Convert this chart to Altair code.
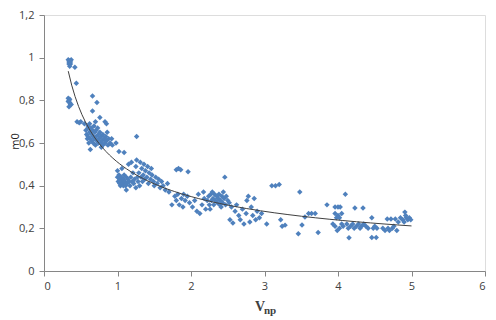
import altair as alt
import pandas as pd

# --- data ---
vnp = [
    # top cluster near 1.0
    0.33, 0.34, 0.35, 0.36, 0.34, 0.37, 0.35, 0.36, 0.42, 0.44,
    # cluster near 0.8
    0.33, 0.34, 0.35, 0.36, 0.34, 0.35, 0.37, 0.33,
    # scattered
    0.45, 0.48, 0.50, 0.66, 0.72, 0.66, 0.76, 0.83, 0.85, 0.60, 0.55,
    # dense cluster 0.57-0.94
    0.57, 0.58, 0.59, 0.60, 0.60, 0.61, 0.62, 0.62, 0.63, 0.63,
    0.64, 0.65, 0.65, 0.66, 0.67, 0.67, 0.68, 0.69, 0.69, 0.70,
    0.71, 0.71, 0.72, 0.73, 0.74, 0.74, 0.75, 0.76, 0.77, 0.78,
    0.79, 0.80, 0.80, 0.82, 0.83, 0.84, 0.85, 0.87, 0.88, 0.90,
    0.92, 0.93, 0.86, 0.78, 0.70,
    # isolated
    1.09, 1.26, 0.98, 1.02,
    # cluster 1.0-1.7
    1.00, 1.00, 1.01, 1.02, 1.03, 1.03, 1.04, 1.05, 1.05, 1.06,
    1.07, 1.08, 1.08, 1.09, 1.10, 1.11, 1.12, 1.13, 1.14, 1.15,
    1.16, 1.17, 1.18, 1.19, 1.20, 1.21, 1.22, 1.23, 1.25, 1.26,
    1.27, 1.28, 1.29, 1.30, 1.31, 1.32, 1.33, 1.34, 1.35, 1.36,
    1.37, 1.38, 1.40, 1.41, 1.42, 1.43, 1.45, 1.46, 1.47, 1.49,
    1.50, 1.52, 1.54, 1.56, 1.58, 1.60, 1.62, 1.65, 1.68, 1.70,
    1.12, 1.25,
    # 1.8-1.96 high
    1.80, 1.83, 1.86, 1.96,
    # 1.74-1.98
    1.74, 1.78, 1.80, 1.82, 1.84, 1.87, 1.89, 1.92, 1.95, 1.90, 1.98,
    # 2.0-2.2
    2.02, 2.05, 2.08, 2.10, 2.12, 2.15, 2.18, 2.20, 2.17,
    # dense 2.2-2.5
    2.22, 2.24, 2.25, 2.27, 2.28, 2.30, 2.31, 2.32, 2.33, 2.35,
    2.36, 2.37, 2.38, 2.39, 2.40, 2.42, 2.43, 2.44, 2.45, 2.47,
    2.48, 2.50, 2.29, 2.41, 2.26, 2.46,
    # 2.5-3.0
    2.52, 2.53, 2.55, 2.57, 2.60, 2.62, 2.65, 2.67, 2.70, 2.72,
    2.75, 2.76, 2.78, 2.80, 2.82, 2.84, 2.86, 2.88, 2.90, 2.93,
    2.96, 3.03,
    # 3.x
    3.10, 3.15, 3.20, 3.22, 3.24, 3.28, 3.46, 3.48, 3.51, 3.55,
    3.60, 3.64, 3.69, 3.73, 3.85, 3.96, 4.00, 4.03,
    # 4.x
    3.96, 3.98, 4.00, 4.02, 4.05, 3.93, 3.96, 3.99, 4.02, 4.05,
    4.07, 4.10, 4.12, 4.14, 4.15, 4.17, 4.20, 4.22, 4.23, 4.25,
    4.28, 4.30, 4.32, 4.34, 4.35, 4.38, 4.41, 4.46, 4.48, 4.50,
    4.46, 4.52, 4.53,
    # 4.6-5.0
    4.61, 4.64, 4.67, 4.68, 4.70, 4.72, 4.74, 4.76, 4.78, 4.80,
    4.82, 4.85, 4.88, 4.90, 4.91, 4.93, 4.95, 4.97, 4.99, 4.92,
]

m0 = [
    0.99, 0.98, 0.985, 0.97, 0.97, 0.99, 0.96, 0.98, 0.955, 0.88,
    0.81, 0.80, 0.79, 0.78, 0.77, 0.805, 0.78, 0.795,
    0.70, 0.695, 0.70, 0.82, 0.79, 0.75, 0.72, 0.70, 0.69, 0.68, 0.69,
    0.66, 0.64, 0.62, 0.67, 0.63, 0.60, 0.65, 0.69, 0.62, 0.57,
    0.67, 0.64, 0.61, 0.66, 0.63, 0.60, 0.68, 0.65, 0.62, 0.59,
    0.66, 0.63, 0.61, 0.67, 0.64, 0.60, 0.62, 0.65, 0.60, 0.63,
    0.61, 0.64, 0.59, 0.62, 0.60, 0.63, 0.61, 0.59, 0.62, 0.60,
    0.62, 0.59, 0.65, 0.58, 0.70,
    0.556, 0.63, 0.60, 0.56,
    0.47, 0.44, 0.42, 0.45, 0.41, 0.43, 0.40, 0.44, 0.42, 0.48,
    0.41, 0.43, 0.40, 0.45, 0.42, 0.40, 0.44, 0.41, 0.43, 0.50,
    0.42, 0.40, 0.44, 0.51, 0.42, 0.46, 0.41, 0.43, 0.49, 0.52,
    0.44, 0.42, 0.46, 0.40, 0.51, 0.44, 0.48, 0.42, 0.45, 0.50,
    0.43, 0.47, 0.44, 0.49, 0.41, 0.46, 0.43, 0.48, 0.45, 0.42,
    0.40, 0.44, 0.41, 0.43, 0.39, 0.42, 0.40, 0.38, 0.41, 0.37,
    0.38, 0.39,
    0.475, 0.48, 0.475, 0.465,
    0.31, 0.35, 0.33, 0.36, 0.31, 0.34, 0.30, 0.33, 0.35, 0.36, 0.32,
    0.30, 0.33, 0.28, 0.36, 0.27, 0.31, 0.34, 0.29, 0.37,
    0.33, 0.35, 0.31, 0.36, 0.33, 0.34, 0.31, 0.36, 0.33, 0.35,
    0.32, 0.34, 0.36, 0.31, 0.33, 0.35, 0.32, 0.37, 0.34, 0.31,
    0.35, 0.33, 0.37, 0.30, 0.29, 0.44,
    0.32, 0.24, 0.30, 0.225, 0.28, 0.31, 0.26, 0.24, 0.29, 0.22,
    0.27, 0.33, 0.35, 0.23, 0.30, 0.26, 0.34, 0.24, 0.28, 0.25,
    0.27, 0.22,
    0.40, 0.40, 0.405, 0.24, 0.21, 0.215, 0.175, 0.37, 0.216, 0.253,
    0.27, 0.27, 0.27, 0.18, 0.31, 0.30, 0.30, 0.30,
    0.27, 0.25, 0.26, 0.25, 0.27, 0.22, 0.21, 0.19, 0.20, 0.22,
    0.21, 0.36, 0.22, 0.20, 0.156, 0.21, 0.22, 0.20, 0.295, 0.21,
    0.22, 0.20, 0.21, 0.295, 0.22, 0.21, 0.20, 0.25, 0.20, 0.21,
    0.157, 0.157, 0.20,
    0.20, 0.19, 0.244, 0.20, 0.19, 0.244, 0.20, 0.21, 0.244, 0.19,
    0.23, 0.25, 0.24, 0.23, 0.276, 0.25, 0.24, 0.25, 0.24, 0.26,
]

x_ticks = [0, 1, 2, 3, 4, 5, 6]
y_ticks = [0, 0.2, 0.4, 0.6, 0.8, 1.0, 1.2]

df = pd.DataFrame({"vnp": vnp, "m0": m0})

axis_common = dict(
    domainColor="#868686",
    tickColor="#868686",
    tickSize=5,
    labelColor="#404040",
    labelFont="Open Sans",
    labelFontSize=11,
    grid=False,
)

x_enc = alt.X(
    "vnp:Q",
    scale=alt.Scale(domain=[0, 6], nice=False),
    axis=alt.Axis(values=x_ticks, format="d", title=None, labelPadding=4, **axis_common),
)
y_enc = alt.Y(
    "m0:Q",
    scale=alt.Scale(domain=[0, 1.2], nice=False),
    axis=alt.Axis(
        values=y_ticks,
        title="m0",
        titleFont="Open Sans",
        titleFontSize=11,
        titleFontWeight="normal",
        titleColor="#202020",
        titleAngle=270,
        titleAlign="center",
        titleBaseline="middle",
        titleLimit=200,
        titleX=-29,
        titleY=126,
        labelPadding=5,
        labelExpr="replace(format(datum.value, '.1~f'), '.', ',')",
        **axis_common,
    ),
)

points = alt.Chart(df).mark_point(
    shape="diamond", filled=True, size=30, opacity=1, color="#4F81BD"
).encode(x=x_enc, y=y_enc)

trend = (
    alt.Chart(df)
    .transform_regression("vnp", "m0", method="pow", extent=[0.33, 5.0])
    .mark_line(color="#404040", strokeWidth=1)
    .encode(x="vnp:Q", y="m0:Q")
)

title_v = alt.Chart(pd.DataFrame({"t": ["V"]})).mark_text(
    font="Liberation Serif", fontSize=14, fontWeight="bold", align="left",
    baseline="alphabetic", color="#404040"
).encode(text="t:N", x=alt.value(211), y=alt.value(296))

title_np = alt.Chart(pd.DataFrame({"t": ["np"]})).mark_text(
    font="Liberation Serif", fontSize=11, fontWeight="bold", align="left",
    baseline="alphabetic", color="#404040"
).encode(text="t:N", x=alt.value(220), y=alt.value(299))

chart = (
    alt.layer(points, trend, title_v, title_np)
    .properties(
        width=441,
        height=256,
        autosize=alt.AutoSizeParams(type="none"),
        padding={"left": 36, "top": 7, "right": 3, "bottom": 50},
    )
    .configure_view(stroke=None)
    .configure(background="white")
)

chart.save("out.html", embed_options={"renderer": "svg", "actions": False})
